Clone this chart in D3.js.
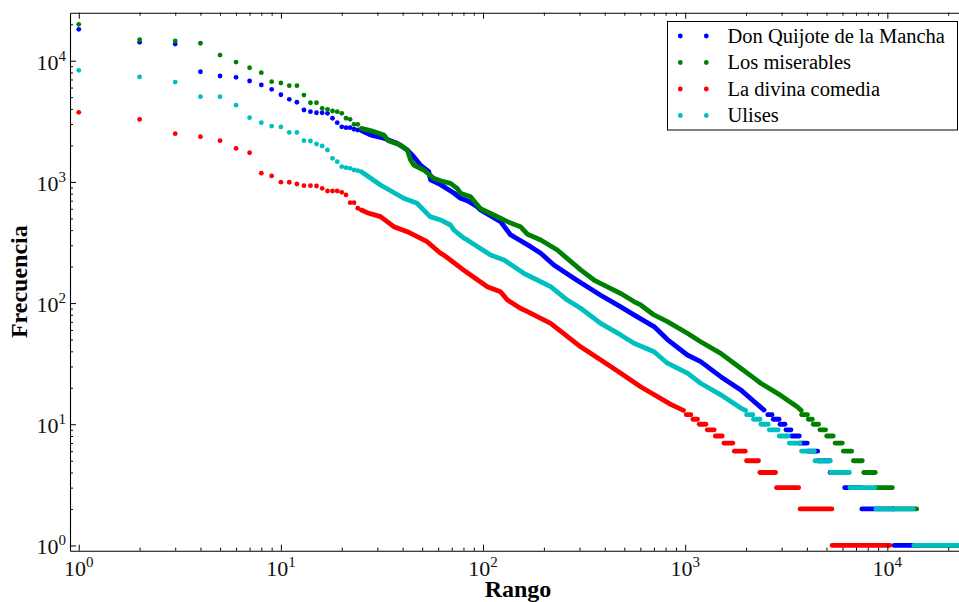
<!DOCTYPE html>
<html><head><meta charset="utf-8">
<script src="https://cdn.jsdelivr.net/npm/d3@7"></script>
<style>body{margin:0;background:#fff}svg{display:block}</style>
</head><body><svg id="c" width="959" height="602"></svg>
<script>
// ---------- DATA ----------
const seriesNames = ["Don Quijote de la Mancha", "Los miserables", "La divina comedia", "Ulises"];
const seriesColors = ["#0000ff", "#008000", "#ff0000", "#00bfbf"];

// frequencies for ranks 1..24 (individual dots)
const quijoteHead = [18150,14190,13740,8110,7480,7290,6800,6310,5810,5240,4800,4540,3920,3800,3720,3720,3680,3350,3080,2850,2800,2800,2720,2680];
const miserablesHead = [19950,14900,14540,13930,11140,9750,8750,7960,6720,6550,6220,6220,5210,4500,4500,4050,3970,3845,3795,3680,3350,3285,2985,2985];
const comediaHead = [3750,3280,2500,2360,2190,1890,1740,1180,1120,995,993,961,931,931,925,885,841,841,841,820,780,674,674,606];
const ulisesHead = [8330,7350,6670,5050,5050,4300,3390,3080,2890,2840,2560,2560,2188,2175,2055,1980,1833,1566,1468,1335,1310,1295,1254,1237];

// [rank, frequency] readings along the dense part
const quijoteBody = [[25,2650],[27.7,2440],[32.3,2290],[37.6,2080],[42.2,1833],[45.4,1615],[49,1378],[53.9,1214],[55,1040],[61.6,950],[71.7,810],[77.4,733],[83.7,700],[93.6,624],[97.2,586],[122,470],[137,365],[142,353],[172,292],[193,258],[224,206],[290,155],[382,116],[480,93],[558,80],[701,64],[817,50],[1025,37.3],[1193,32.9],[1499,24.7],[1883,19.2],[2191,15.4],[2455,13.1]];
const miserablesBody = [[25,2767],[28,2640],[32.3,2438],[34,2190],[39,2015],[42.2,1833],[43.8,1517],[45.4,1378],[50.9,1254],[57.1,1071],[61.6,1023],[69,973],[74.5,885],[77.4,805],[86.7,755],[97.2,600],[122,501],[132,470],[153,427],[166,370],[193,332],[233,274],[304,188],[354,155],[412,136],[480,120],[558,103],[602,96.5],[701,79.8],[817,70.3],[1025,56.4],[1193,48],[1499,38.5],[1883,29],[2191,24],[2365,21.8],[2971,17.3],[3593,13.9],[3750,13]];
const comediaBody = [[25,586],[26.7,557],[31.1,517],[36.2,427],[42.2,388],[52.9,321],[61.6,258],[64,249],[82,182],[105,136.5],[122,124],[132,106],[153,90.6],[166,85],[216,68.1],[304,43.6],[428,29.9],[480,26.4],[602,20.4],[848,14.6],[980,13]];
const ulisesBody = [[25,1214],[31.1,943],[40.5,733],[47.2,665],[54.7,517],[61.6,485],[69,441],[71.7,401],[80.4,343],[83.5,332],[109,249],[127,227],[159,176],[172,165],[216,136.5],[261,106],[304,90.6],[382,68.1],[480,54.6],[558,46.6],[701,39.7],[817,31.9],[1025,26.4],[1193,21.8],[1499,17.5],[1883,13.6],[1990,13]];

// [frequency, firstRank, lastRank] runs of equal frequency in the tail
const quijoteTail = [[12,2560,2690],[11,2727,2915],[10,2943,3116],[9,3150,3337],[8,3350,3667],[7,3680,4017],[6,4030,4520],[5,4530,5200],[4,5210,6140],[3,6150,7470],[2,7480,10800],[1,10800,22400]];
const miserablesTail = [[12,3765,4027],[11,4064,4254],[10,4300,4570],[9,4640,4950],[8,5010,5400],[7,5510,5990],[6,6060,6660],[5,6790,7520],[4,7640,8720],[3,8730,10590],[2,10600,13970],[1,14000,26000]];
const comediaTail = [[12,1012,1067],[11,1092,1150],[10,1173,1266],[9,1285,1392],[8,1409,1525],[7,1553,1722],[6,1750,1983],[5,2010,2305],[4,2340,2800],[3,2830,3640],[2,3700,5320],[1,5330,10290]];
const ulisesTail = [[12,2012,2160],[11,2175,2346],[10,2370,2576],[9,2605,2886],[8,2918,3235],[7,3273,3697],[6,3766,4350],[5,4385,5220],[4,5240,6490],[3,6530,8670],[2,8770,13450],[1,13530,30000]];

const majorTicks = [1, 10, 100, 1000, 10000];
const tickExponents = ["0", "1", "2", "3", "4"];
const xTitle = "Rango";
const yTitle = "Frecuencia";

// ---------- CHART ----------
const heads = [quijoteHead, miserablesHead, comediaHead, ulisesHead];
const bodies = [quijoteBody, miserablesBody, comediaBody, ulisesBody];
const tails = [quijoteTail, miserablesTail, comediaTail, ulisesTail];

const L = 70, R = 966, T = 12.7, B = 550.7;
const FONT = "'Liberation Serif','DejaVu Serif',serif";
const svg = d3.select("#c");
const x = d3.scaleLog().domain([0.905, 24500]).range([L, R]);
const y = d3.scaleLog().domain([0.905, 24900]).range([B, T]);

function minorFor(scale) {
  const [a, b] = scale.domain(); const out = [];
  for (let k = -1; k <= 5; k++) for (let m = 2; m <= 9; m++) {
    const v = m * Math.pow(10, k); if (v > a && v < b) out.push(v);
  }
  return out;
}

svg.append("defs").append("clipPath").attr("id", "plot")
  .append("rect").attr("x", L).attr("y", T).attr("width", R - L).attr("height", B - T);

const marks = svg.append("g").attr("clip-path", "url(#plot)");
const r = 2.4, sw = 4.8;
const line = d3.line().x(d => x(d[0])).y(d => y(d[1]));

heads.forEach((head, i) => {
  const g = marks.append("g");
  const col = seriesColors[i];
  g.append("path").attr("d", line(bodies[i])).attr("fill", "none").attr("stroke", col)
    .attr("stroke-width", sw).attr("stroke-linecap", "round").attr("stroke-linejoin", "round");
  g.selectAll("line.tail").data(tails[i]).join("line").attr("class", "tail")
    .attr("x1", d => x(d[1])).attr("x2", d => x(d[2]))
    .attr("y1", d => y(d[0])).attr("y2", d => y(d[0]))
    .attr("stroke", col).attr("stroke-width", sw).attr("stroke-linecap", "round");
  g.selectAll("circle").data(head).join("circle")
    .attr("cx", (d, j) => x(j + 1)).attr("cy", d => y(d)).attr("r", r).attr("fill", col);
});

// axes
function styleAxis(g) {
  g.selectAll("path.domain").attr("stroke", "#000").attr("stroke-width", 1.1);
  g.selectAll(".tick line").attr("stroke", "#000").attr("stroke-width", 1);
  g.selectAll(".tick text").remove();
}
const axes = [
  [d3.axisBottom(x), `translate(0,${B})`, x],
  [d3.axisTop(x), `translate(0,${T})`, x],
  [d3.axisLeft(y), `translate(${L},0)`, y],
  [d3.axisRight(y), `translate(${R},0)`, y]
];
axes.forEach(([ax, tr, sc]) => {
  svg.append("g").attr("transform", tr)
    .call(ax.tickValues(majorTicks.filter(v => v >= sc.domain()[0] && v <= sc.domain()[1])).tickSize(-6).tickSizeOuter(0).tickFormat(""))
    .call(styleAxis);
  svg.append("g").attr("transform", tr)
    .call(ax.tickValues(minorFor(sc)).tickSize(-3).tickSizeOuter(0).tickFormat(""))
    .call(styleAxis).call(g => g.select("path.domain").remove());
});

// tick labels
function powLabel(g, val, ex) {
  g.append("tspan").text("10");
  g.append("tspan").attr("dy", -9).attr("font-size", 15).text(ex);
}
majorTicks.forEach((t, i) => {
  const tx = svg.append("text").attr("x", x(t)).attr("y", 576).attr("text-anchor", "middle")
    .attr("font-family", FONT).attr("font-size", 22).attr("fill", "#111");
  powLabel(tx, t, tickExponents[i]);
  const ty = svg.append("text").attr("x", 66).attr("y", y(t) + 9).attr("text-anchor", "end")
    .attr("font-family", FONT).attr("font-size", 22).attr("fill", "#111");
  powLabel(ty, t, tickExponents[i]);
});

// axis titles
svg.append("text").attr("x", (L + R) / 2).attr("y", 597).attr("text-anchor", "middle")
  .attr("font-family", FONT).attr("font-size", 24).attr("font-weight", "bold").text(xTitle);
svg.append("text").attr("transform", `translate(27,${(T + B) / 2}) rotate(-90)`).attr("text-anchor", "middle")
  .attr("font-family", FONT).attr("font-size", 24).attr("font-weight", "bold").text(yTitle);

// legend
const lg = svg.append("g");
lg.append("rect").attr("x", 667.5).attr("y", 21.5).attr("width", 290).attr("height", 108.5)
  .attr("fill", "#fff").attr("stroke", "#000").attr("stroke-width", 1);
seriesNames.forEach((name, i) => {
  const cy = 36 + i * 26.5;
  [680.3, 706.3].forEach(cx => lg.append("circle").attr("cx", cx).attr("cy", cy).attr("r", r).attr("fill", seriesColors[i]));
  lg.append("text").attr("x", 727.5).attr("y", cy + 6.5).attr("font-family", FONT).attr("font-size", 20.5)
    .attr("fill", "#000").text(name);
});
</script></body></html>
